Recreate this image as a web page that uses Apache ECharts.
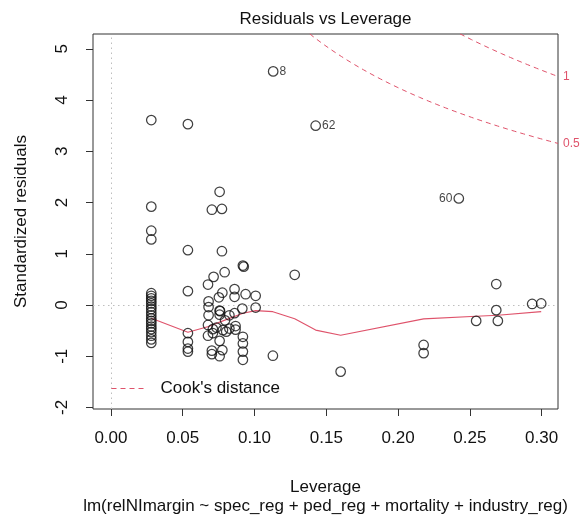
<!DOCTYPE html>
<html>
<head>
<meta charset="utf-8">
<script src="https://cdn.jsdelivr.net/npm/echarts@6/dist/echarts.min.js"></script>
<style>
html,body{margin:0;padding:0;background:#fff;}
#chart{width:582px;height:521px;}
</style>
</head>
<body>
<div id="chart"></div>
<script>
// ---- data ----
const leverage = [
  0.0281,0.0281,0.0281,0.0281,
  0.0281,0.0281,0.0281,0.0281,0.0281,0.0281,0.0281,0.0281,0.0281,
  0.0281,0.0281,0.0281,0.0281,0.0281,0.0281,0.0281,0.0281,0.0281,
  0.0536,0.0536,0.0536,0.0536,0.0536,0.0536,0.0536,
  0.0757,0.0703,0.0773,0.0773,0.0919,0.0925,0.0792,0.0715,0.0676,0.0776,
  0.0861,0.0861,0.0752,0.0938,0.1008,0.1008,0.0915,0.0680,0.0680,0.0680,
  0.0757,0.0757,0.0861,0.0676,0.0710,0.0676,0.0803,0.0868,0.0868,0.0919,
  0.0919,0.0919,0.0919,0.0757,0.0703,0.0703,0.0776,0.0757,0.0710,0.0780,
  0.0825,0.0760,0.0825,0.0735,0.0795,
  0.1128,0.1280,0.1130,0.1426,0.1600,0.2178,0.2178,0.2423,0.2544,0.2684,
  0.2684,0.2695,0.2934,0.2997
];
const stdResiduals = [
  3.61,1.92,1.45,1.28,
  0.23,0.18,0.13,0.08,0.03,-0.03,-0.08,-0.14,-0.20,
  -0.26,-0.31,-0.36,-0.42,-0.47,-0.53,-0.60,-0.67,-0.74,
  3.53,1.07,0.27,-0.55,-0.72,-0.85,-0.91,
  2.21,1.86,1.875,1.05,0.77,0.75,0.64,0.55,0.40,0.24,
  0.31,0.16,0.15,0.21,0.18,-0.05,-0.07,0.07,-0.04,-0.20,
  -0.11,-0.19,-0.16,-0.39,-0.55,-0.60,-0.52,-0.41,-0.48,-0.62,
  -0.75,-0.91,-1.07,-0.70,-0.89,-0.96,-0.88,-1.00,-0.47,-0.49,
  -0.46,-0.12,-0.20,-0.44,-0.30,
  -0.99,0.59,4.56,3.50,-1.30,-0.78,-0.94,2.08,-0.31,0.41,
  -0.10,-0.31,0.02,0.03
];
// labelled observations: index into the arrays above, text, side
const pointLabels = [
  {i: 76, text: '8',  side: 'right'},
  {i: 77, text: '62', side: 'right'},
  {i: 81, text: '60', side: 'left'}
];
// smoother (red line)
const smoothX = [0.0281,0.0536,0.0680,0.0780,0.0920,0.1008,0.1128,0.1280,0.1426,0.1600,0.2178,0.2544,0.2695,0.2997];
const smoothY = [-0.26,-0.53,-0.42,-0.31,-0.16,-0.11,-0.13,-0.27,-0.49,-0.59,-0.27,-0.22,-0.20,-0.13];
// Cook's distance contours
const cookLevels = [0.5, 1];
const nParams = 9;
const xTicks = [0,0.05,0.10,0.15,0.20,0.25,0.30];
const yTicks = [-2,-1,0,1,2,3,4,5];
const xRange = [-0.0125, 0.3114];
const yRange = [-2.03, 5.29];

// ---- build ----
const RED = '#DF536B';
const FONT = "'Liberation Sans', Arial, Helvetica, sans-serif";

const scatterData = leverage.map((h, k) => {
  const item = {value: [h, stdResiduals[k]]};
  const lab = pointLabels.find(p => p.i === k);
  if (lab) {
    item.label = {show: true, formatter: lab.text, position: lab.side,
      distance: 1, fontSize: 12, color: '#111', fontFamily: FONT};
  }
  return item;
});

const hGrid = [];
for (let k = 0; k <= 100; k++) hGrid.push(0.01 + (xRange[1] - 0.01) * k / 100);
const cookSeries = cookLevels.map(lv => ({
  name: "Cook's distance",
  type: 'line',
  data: hGrid.map(h => [h, Math.sqrt(lv * nParams * (1 - h) / h)]),
  symbol: 'none',
  clip: true,
  lineStyle: {color: RED, width: 1, type: [5, 4]},
  itemStyle: {color: RED},
  endLabel: {show: true, formatter: String(lv), color: RED, fontSize: 12,
    fontFamily: FONT, distance: 5},
  silent: true,
  z: 3
}));

const chart = echarts.init(document.getElementById('chart'), null, {renderer: 'canvas'});
chart.setOption({
  animation: false,
  backgroundColor: '#fff',
  grid: {left: 93, right: 24, top: 34, bottom: 112, show: true,
    borderColor: '#333', borderWidth: 1, backgroundColor: 'transparent'},
  xAxis: {
    type: 'value', min: xRange[0], max: xRange[1],
    axisLine: {show: false, onZero: false},
    splitLine: {show: false},
    axisTick: {show: true, length: 7, inside: false, customValues: xTicks,
      lineStyle: {color: '#333', width: 1}},
    axisLabel: {show: true, customValues: xTicks, margin: 21, fontSize: 17,
      color: '#111', fontFamily: FONT, formatter: v => v.toFixed(2)}
  },
  yAxis: {
    type: 'value', min: yRange[0], max: yRange[1],
    axisLine: {show: false, onZero: false},
    splitLine: {show: false},
    axisTick: {show: true, length: 7, inside: false, customValues: yTicks,
      lineStyle: {color: '#333', width: 1}},
    axisLabel: {show: true, customValues: yTicks, margin: 22, rotate: 90,
      fontSize: 17, color: '#111', fontFamily: FONT, formatter: v => String(v)}
  },
  legend: {
    show: true, left: 106, top: 375, orient: 'vertical',
    data: ["Cook's distance"],
    itemWidth: 34, itemHeight: 14,
    itemStyle: {color: 'rgba(0,0,0,0)', borderColor: 'rgba(0,0,0,0)', borderWidth: 0},
    lineStyle: {width: 1},
    textStyle: {fontSize: 17, color: '#111', fontFamily: FONT, padding: [0, 0, 0, 10]}
  },
  graphic: [
    {type: 'text', x: 325.5, y: 19, silent: true,
      style: {text: 'Residuals vs Leverage', fontSize: 17, fontFamily: FONT, fill: '#111',
        textAlign: 'center', textVerticalAlign: 'middle'}},
    {type: 'text', x: 325.5, y: 487, silent: true,
      style: {text: 'Leverage', fontSize: 17, fontFamily: FONT, fill: '#111',
        textAlign: 'center', textVerticalAlign: 'middle'}},
    {type: 'text', x: 325.5, y: 506, silent: true,
      style: {text: 'lm(relNImargin ~ spec_reg + ped_reg + mortality + industry_reg)', fontSize: 17,
        fontFamily: FONT, fill: '#111', textAlign: 'center', textVerticalAlign: 'middle'}},
    {type: 'text', x: 21, y: 221.5, rotation: Math.PI / 2, silent: true,
      style: {text: 'Standardized residuals', fontSize: 17, fontFamily: FONT, fill: '#111',
        textAlign: 'center', textVerticalAlign: 'middle'}}
  ],
  series: [
    {
      type: 'scatter',
      data: scatterData,
      symbol: 'circle', symbolSize: 9.5,
      itemStyle: {color: 'rgba(0,0,0,0)', borderColor: '#111', borderWidth: 1.25},
      z: 4,
      markLine: {
        silent: true, symbol: ['none', 'none'], label: {show: false},
        lineStyle: {color: '#BEBEBE', width: 1, type: [1.5, 3.5]},
        data: [{xAxis: 0}, {yAxis: 0}],
        z: 1
      }
    },
    {
      type: 'line',
      data: smoothX.map((x, k) => [x, smoothY[k]]),
      symbol: 'none',
      lineStyle: {color: RED, width: 1.1},
      silent: true,
      z: 3
    },
    ...cookSeries
  ]
});
</script>
</body>
</html>
